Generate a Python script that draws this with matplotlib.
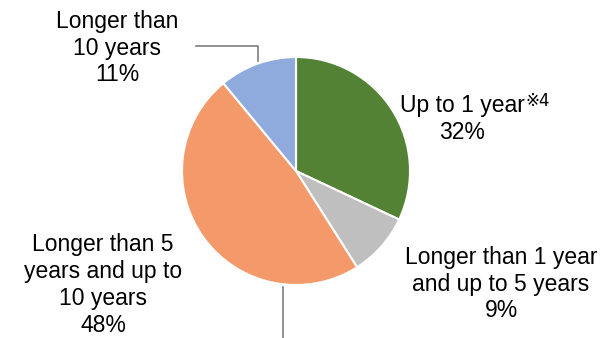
import matplotlib
matplotlib.use("Agg")
import matplotlib.pyplot as plt

plt.rcParams['font.family'] = ['Liberation Sans', 'DejaVu Sans']

# data: clockwise from 12 o'clock
labels = ["Up to 1 year", "Longer than 1 year\nand up to 5 years",
          "Longer than 5\nyears and up to\n10 years", "Longer than\n10 years"]
shares = [32, 9, 48, 11]
colors = ["#548235", "#BFBFBF", "#F4996A", "#8FAADC"]

W, H = 604, 338
fig = plt.figure(figsize=(W / 100, H / 100), dpi=100)
ax = fig.add_axes([0, 0, 1, 1])

# pie placed in pixel coordinates (y measured from bottom)
cx, cy, r = 296, H - 171, 114
ax.pie(shares, colors=colors, startangle=90, counterclock=False,
       center=(cx, cy), radius=r,
       wedgeprops=dict(edgecolor="white", linewidth=1.5))
ax.set_xlim(0, W)
ax.set_ylim(0, H)
ax.set_aspect("equal")
ax.axis("off")

fs = 16.5
ls = 1.22
pct = [f"{v}%" for v in shares]

# label blocks, positions in image pixels
ax.text(462, H - 119, labels[0] + "\n" + pct[0], fontsize=fs,
        ha="center", va="center", linespacing=ls)
ax.text(525, H - 101, "\u203b4", fontsize=12, ha="left", va="center",
        family=['DejaVu Sans'])

ax.text(501, H - 284, labels[1] + "\n" + pct[1], fontsize=fs,
        ha="center", va="center", linespacing=ls)
ax.text(103, H - 285, labels[2] + "\n" + pct[2], fontsize=fs,
        ha="center", va="center", linespacing=ls)
ax.text(117, H - 48, labels[3] + "\n" + pct[3], fontsize=fs,
        ha="center", va="center", linespacing=ls)

# leader lines
ax.plot([196, 258, 258], [H - 46, H - 46, H - 61], color="#7F7F7F", lw=1.2)
ax.plot([283, 283], [H - 287, 0], color="#7F7F7F", lw=1.2)

fig.savefig("out.png", dpi=100)
